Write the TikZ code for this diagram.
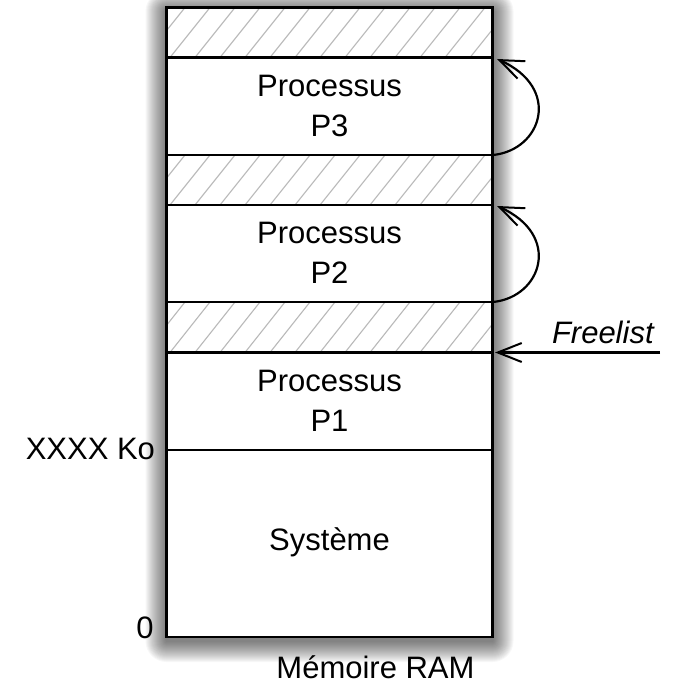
\documentclass[tikz,border=0pt]{standalone}
\usepackage{fontspec}
\setmainfont{Liberation Sans}
\usetikzlibrary{arrows.meta}
\begin{document}
\begin{tikzpicture}[x=1pt,y=-1pt,
  lbl/.style={font=\fontsize{31}{40}\selectfont, inner sep=0pt, outer sep=0pt},
  txt/.style={lbl, align=center},
  barb/.style={-{Straight Barb[length=24pt,width=19pt,line width=2pt]}, line width=2.2pt},
  hatchline/.style={gray!55, line width=1.1pt},
  divider/.style={line width=2.4pt},
  shadowlayer/.style={fill=black, fill opacity=0.03, draw=none}]
\useasboundingbox (0,0) rectangle (673,682);
% soft shadow, built from layers
\foreach \i in {1,...,21}{
  \fill[shadowlayer, rounded corners={\i*1pt}] ({166.5-\i*1.0},{7.5+4-\i*1.0}) rectangle ({492.5+\i*1.0},{637+4+\i*1.0});
}
% memory box
\node[draw=none, fill=white, minimum width=326pt, minimum height=629.5pt, inner sep=0pt, outer sep=0pt] (ram) at (329.5,322.25) {};
% hatched bands
\foreach \top/\bot in {7.5/57.5, 155/205, 302/352.5}{
  \begin{scope}
    \clip (166.5,\top) rectangle (492.5,\bot);
    \foreach \k in {-3,...,14}
      \draw[hatchline] (170+25*\k,\bot) -- ++(40,{\top-\bot});
  \end{scope}
}
% dividers
\foreach \y/\n in {57.5/d1, 155/d2, 205/d3, 302/d4, 352.5/d5, 450/d6}{
  \coordinate (\n l) at (166.5,\y);
  \coordinate (\n r) at (492.5,\y);
  \draw[divider] (\n l) -- (\n r);
}
\draw[line width=2.4pt] (ram.north west) rectangle (ram.south east);
% texts
\node[txt] (p3) at (329.5,106) {Processus\\P3};
\node[txt] (p2) at (329.5,253) {Processus\\P2};
\node[txt] (p1) at (329.5,400.5) {Processus\\P1};
\node[lbl] (sys) at (329.5,542) {Système};
\node[lbl, anchor=base east] (kb) at (155,459) {XXXX Ko};
\node[lbl, anchor=base east] (zero) at (153.5,638) {0};
\node[lbl, anchor=base] (ramlbl) at (375.5,678) {Mémoire RAM};
\node[lbl, anchor=base west, font=\fontsize{31}{40}\selectfont\itshape] (fl) at (552,343) {Freelist};
% arrows
\coordinate (a3s) at (493,155);
\coordinate (a3e) at (497,59);
\coordinate (a2s) at (493,302);
\coordinate (a2e) at (497,206);
\coordinate (fls) at (660,352.5);
\coordinate (fle) at (495,352.5);
\draw[barb] (a3s) .. controls +(49,-5) and +(65,29) .. (a3e);
\draw[barb] (a2s) .. controls +(49,-5) and +(65,29) .. (a2e);
\draw[barb] (fls) -- (fle);
\end{tikzpicture}
\end{document}
